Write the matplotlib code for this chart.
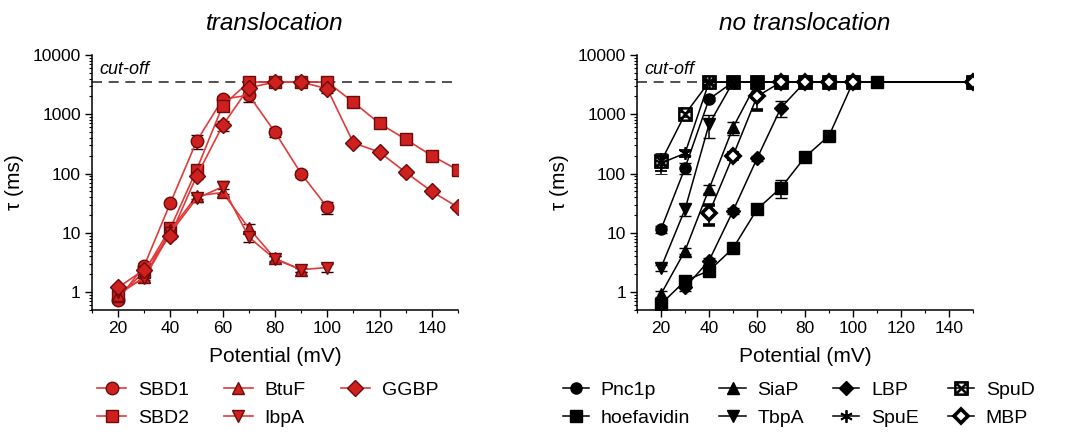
import matplotlib
matplotlib.use("Agg")
import matplotlib.pyplot as plt
from matplotlib.lines import Line2D
from matplotlib.ticker import NullFormatter, LogLocator, MultipleLocator

plt.rcParams['font.family'] = ['Liberation Sans', 'DejaVu Sans']

# ---------------- data: translocation (left) ----------------
sbd1_x = [20, 30, 40, 50, 60, 70, 80, 90, 100]
sbd1_y = [0.75, 2.8, 32, 350, 1800, 2100, 500, 100, 27]
sbd1_e = [0.1, 0.3, 3, 90, 200, 500, 80, 12, 6]

sbd2_x = [20, 30, 40, 50, 60, 70, 80, 90, 100, 110, 120, 130, 140, 150]
sbd2_y = [0.85, 2.2, 12, 115, 1400, 3500, 3500, 3500, 3500, 1600, 700, 380, 200, 115]
sbd2_e = [0.1, 0.2, 1, 10, 100, 0, 0, 0, 0, 100, 50, 30, 15, 10]

btuf_x = [20, 30, 40, 50, 60, 70, 80, 90]
btuf_y = [0.9, 1.8, 11, 42, 48, 12, 3.7, 2.4]
btuf_e = [0.1, 0.2, 1, 5, 6, 2, 0.4, 0.2]

ibpa_x = [20, 30, 40, 50, 60, 70, 80, 90, 100]
ibpa_y = [1.0, 1.7, 10, 38, 60, 8.5, 3.6, 2.4, 2.6]
ibpa_e = [0.1, 0.2, 1, 5, 15, 1.5, 0.4, 0.2, 0.4]

ggbp_x = [20, 30, 40, 50, 60, 70, 80, 90, 100, 110, 120, 130, 140, 150]
ggbp_y = [1.2, 2.4, 9, 90, 650, 2800, 3500, 3500, 2700, 330, 230, 105, 50, 27]
ggbp_e = [0.1, 0.2, 1, 10, 120, 300, 0, 0, 400, 30, 20, 10, 5, 3]

# ---------------- data: no translocation (right) ----------------
pnc1p_x = [20, 30, 40, 50, 60, 70, 80, 90, 100, 150]
pnc1p_y = [11.5, 125, 1800, 3500, 3500, 3500, 3500, 3500, 3500, 3500]
pnc1p_e = [1.5, 25, 150, 0, 0, 0, 0, 0, 0, 0]

hoef_x = [20, 30, 40, 50, 60, 70, 80, 90, 100, 110, 150]
hoef_y = [0.63, 1.55, 2.3, 5.5, 25, 58, 190, 435, 3500, 3500, 3500]
hoef_e = [0.05, 0.15, 0.3, 0.6, 3, 20, 20, 40, 0, 0, 0]

siap_x = [20, 30, 40, 50, 60, 70, 80, 90, 100, 150]
siap_y = [0.93, 5, 55, 600, 3500, 3500, 3500, 3500, 3500, 3500]
siap_e = [0.1, 0.6, 8, 150, 0, 0, 0, 0, 0, 0]

tbpa_x = [20, 30, 40, 50, 60, 70, 80, 90, 100, 150]
tbpa_y = [2.6, 25, 680, 3500, 3500, 3500, 3500, 3500, 3500, 3500]
tbpa_e = [0.3, 6, 280, 0, 0, 0, 0, 0, 0, 0]

lbp_x = [30, 40, 50, 60, 70, 80, 90, 100, 150]
lbp_y = [1.2, 3.4, 23.5, 180, 1300, 3500, 3500, 3500, 3500]
lbp_e = [0.15, 0.4, 3, 20, 400, 0, 0, 0, 0]

spue_x = [20, 30, 40, 50, 60, 70, 80, 90, 100, 150]
spue_y = [150, 220, 3500, 3500, 3500, 3500, 3500, 3500, 3500, 3500]
spue_e = [40, 30, 0, 0, 0, 0, 0, 0, 0, 0]

spud_x = [20, 30, 40, 50, 60, 70, 80, 90, 100, 150]
spud_y = [160, 1000, 3500, 3500, 3500, 3500, 3500, 3500, 3500, 3500]
spud_e = [60, 100, 0, 0, 0, 0, 0, 0, 0, 0]

mbp_x = [40, 50, 60, 70, 80, 90, 100, 150]
mbp_y = [21.5, 200, 2000, 3500, 3500, 3500, 3500, 3500]
mbp_e = [8, 25, 800, 0, 0, 0, 0, 0]

cutoff = 3500
x_ticks = [20, 40, 60, 80, 100, 120, 140]
y_ticks = [1, 10, 100, 1000, 10000]
y_ticklabels = ['1', '10', '100', '1000', '10000']

# ---------------- styling ----------------
RED_FACE = '#cf2020'
RED_EDGE = '#6e0a0a'
RED_LINE = '#e23a3a'

fig = plt.figure(figsize=(10.77, 4.44), dpi=100)
posL = [0.0854, 0.3018, 0.3398, 0.5743]
posR = [0.5915, 0.3018, 0.3120, 0.5743]
axL = fig.add_axes(posL)
axR = fig.add_axes(posR)

TICK_FS = 12.5
LAB_FS = 15


def style_axes(ax, pos, title):
    ax.set_yscale('log')
    ax.set_xlim(10, 150)
    ax.set_ylim(0.5, 10000)
    ax.set_xticks(x_ticks)
    ax.set_xticklabels([str(v) for v in x_ticks])
    ax.xaxis.set_minor_locator(MultipleLocator(10))
    ax.set_yticks(y_ticks)
    ax.set_yticklabels(y_ticklabels)
    ax.yaxis.set_minor_locator(LogLocator(base=10, subs=range(2, 10)))
    ax.yaxis.set_minor_formatter(NullFormatter())
    ax.tick_params(axis='both', which='major', length=5, width=1.0,
                   labelsize=TICK_FS, direction='out', pad=3)
    ax.tick_params(axis='both', which='minor', length=2.5, width=0.8)
    for s in ['top', 'right']:
        ax.spines[s].set_visible(False)
    for s in ['left', 'bottom']:
        ax.spines[s].set_linewidth(1.1)
    ax.set_xlabel('Potential (mV)', fontsize=LAB_FS, labelpad=8)
    ax.set_ylabel('τ (ms)', fontsize=LAB_FS, labelpad=6)
    fig.text(pos[0] + pos[2] / 2, 0.948, title, fontsize=17.5,
             style='italic', ha='center', va='center')
    ax.axhline(cutoff, color='#333333', lw=1.2, ls=(0, (6, 4)), zorder=1)
    ax.text(13, 5600, 'cut-off', style='italic', fontsize=13, ha='left',
            va='center')


style_axes(axL, posL, 'translocation')
style_axes(axR, posR, 'no translocation')

left_series = [
    ('SBD1', sbd1_x, sbd1_y, sbd1_e, 'o', 9),
    ('SBD2', sbd2_x, sbd2_y, sbd2_e, 's', 8.5),
    ('BtuF', btuf_x, btuf_y, btuf_e, '^', 9),
    ('IbpA', ibpa_x, ibpa_y, ibpa_e, 'v', 9),
    ('GGBP', ggbp_x, ggbp_y, ggbp_e, 'D', 8),
]
handlesL = []
for name, xs, ys, es, mk, ms in left_series:
    axL.errorbar(xs, ys, yerr=es, fmt='-', marker=mk, ms=ms,
                 color=RED_LINE, lw=1.2, mfc=RED_FACE, mec=RED_EDGE,
                 mew=1.0, ecolor='#2a0000', elinewidth=1.1, capsize=4,
                 capthick=1.1, zorder=3)
    handlesL.append(Line2D([], [], color=RED_LINE, lw=1.2, marker=mk,
                           ms=ms, mfc=RED_FACE, mec=RED_EDGE, mew=1.0,
                           label=name))

right_series = [
    ('Pnc1p', pnc1p_x, pnc1p_y, pnc1p_e, 'o', 8, 'black', 1.0),
    ('hoefavidin', hoef_x, hoef_y, hoef_e, 's', 8, 'black', 1.0),
    ('SiaP', siap_x, siap_y, siap_e, '^', 8.5, 'black', 1.0),
    ('TbpA', tbpa_x, tbpa_y, tbpa_e, 'v', 8.5, 'black', 1.0),
    ('LBP', lbp_x, lbp_y, lbp_e, 'D', 7.5, 'black', 1.0),
    ('SpuE', spue_x, spue_y, spue_e, (6, 2, 0), 9, 'black', 1.3),
    ('SpuD', spud_x, spud_y, spud_e, r'$\boxtimes$', 10, 'black', 0.6),
    ('MBP', mbp_x, mbp_y, mbp_e, 'D', 7.5, 'white', 2.6),
]
handlesR = {}
for name, xs, ys, es, mk, ms, face, mew in right_series:
    axR.errorbar(xs, ys, yerr=es, fmt='-', marker=mk, ms=ms,
                 color='black', lw=1.1, mfc=face, mec='black',
                 mew=mew, ecolor='black', elinewidth=1.1, capsize=4,
                 capthick=1.1, zorder=3)
    handlesR[name] = Line2D([], [], color='black', lw=1.1, marker=mk,
                            ms=ms, mfc=face, mec='black', mew=mew,
                            label=name)

legL = fig.legend(handles=handlesL, loc='upper left',
                  bbox_to_anchor=(0.090, 0.142), ncol=3, frameon=False,
                  fontsize=14, handlelength=1.5, handletextpad=0.6,
                  columnspacing=1.8, labelspacing=0.55, borderpad=0,
                  borderaxespad=0)

order = ['Pnc1p', 'hoefavidin', 'SiaP', 'TbpA', 'LBP', 'SpuE', 'SpuD', 'MBP']
legR = fig.legend(handles=[handlesR[k] for k in order], loc='upper left',
                  bbox_to_anchor=(0.5227, 0.142), ncol=4, frameon=False,
                  fontsize=14, handlelength=1.35, handletextpad=0.6,
                  columnspacing=1.5, labelspacing=0.55, borderpad=0,
                  borderaxespad=0)

fig.savefig('out.png', dpi=100)
